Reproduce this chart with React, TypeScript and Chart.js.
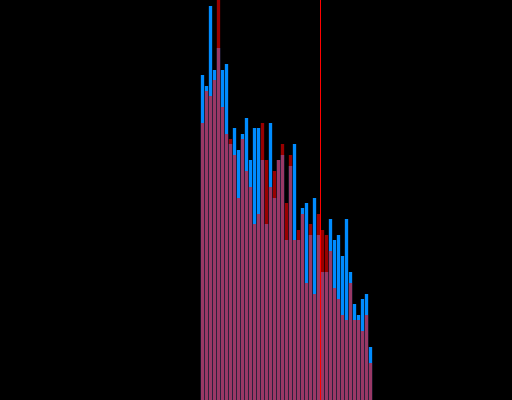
import React, { useEffect, useRef } from "react";
import { Chart, registerables } from "chart.js";

Chart.register(...registerables);

// Histogram bins (bin start values)
const bins = [
  50, 51, 52, 53, 54, 55, 56, 57, 58, 59,
  60, 61, 62, 63, 64, 65, 66, 67, 68, 69,
  70, 71, 72, 73, 74, 75, 76, 77, 78, 79,
  80, 81, 82, 83, 84, 85, 86, 87, 88, 89,
  90, 91, 92,
];

// Series A (blue)
const seriesBlue = [
  81.25, 78.5, 98.5, 82.5, 88, 82.5, 84, 64, 68, 62.5,
  66.5, 70.5, 60, 68, 68, 60, 44, 69.25, 50.5, 60,
  61.25, 40, 58.5, 64, 40, 48, 49.25, 41.25, 50.5, 41.25,
  32, 32, 45.25, 40, 41.25, 36, 45.25, 32, 24, 21.25,
  25.25, 26.5, 13.25,
];

// Series B (red, translucent)
const seriesRed = [
  69.25, 77.25, 76, 80, 104, 73.25, 66.5, 65.25, 61.25, 50.5,
  65.25, 57.25, 53.25, 44, 46.5, 69.25, 60, 53.25, 57.25, 60,
  64, 49.25, 61.25, 40, 42.5, 46.5, 29.25, 44, 26.5, 46.5,
  42.5, 41.25, 37.25, 28, 25.25, 21.25, 20, 29.25, 20, 20,
  17.25, 21.25, 9.25,
];

// Vertical marker value
const markerValue = 80;

const xMin = -0.125;
const xMax = 127.875;
const yMin = 0;
const yMax = 100;

export default function App() {
  const canvasRef = useRef<HTMLCanvasElement | null>(null);

  useEffect(() => {
    document.body.style.margin = "0";
    document.body.style.background = "#000";
    const canvas = canvasRef.current;
    if (!canvas) return;

    const blueData = bins.map((b, i) => ({ x: b + 0.5, y: seriesBlue[i] }));
    const redData = bins.map((b, i) => ({ x: b + 0.5, y: seriesRed[i] }));

    const chart = new Chart(canvas, {
      type: "bar",
      data: {
        datasets: [
          {
            type: "line",
            label: "marker",
            data: [
              { x: markerValue, y: yMin },
              { x: markerValue, y: yMax },
            ],
            borderColor: "#ff0000",
            borderWidth: 1,
            pointRadius: 0,
            fill: false,
            order: 0,
          } as any,
          {
            label: "B",
            data: redData,
            backgroundColor: "rgba(255,0,0,0.6)",
            borderWidth: 0,
            grouped: false,
            categoryPercentage: 1,
            barPercentage: 0.83,
            order: 1,
          } as any,
          {
            label: "A",
            data: blueData,
            backgroundColor: "rgb(0,140,255)",
            borderWidth: 0,
            grouped: false,
            categoryPercentage: 1,
            barPercentage: 0.83,
            order: 2,
          } as any,
        ],
      },
      options: {
        responsive: false,
        animation: false,
        devicePixelRatio: 1,
        layout: { padding: 0 },
        plugins: {
          legend: { display: false },
          tooltip: { enabled: false },
          title: { display: false },
        },
        scales: {
          x: {
            type: "linear",
            min: xMin,
            max: xMax,
            offset: false,
            display: false,
          },
          y: {
            type: "linear",
            min: yMin,
            max: yMax,
            display: false,
          },
        },
      },
    });

    return () => chart.destroy();
  }, []);

  return (
    <div
      style={{
        position: "fixed",
        left: 0,
        top: 0,
        width: 512,
        height: 400,
        background: "#000",
      }}
    >
      <canvas ref={canvasRef} width={512} height={400} style={{ display: "block" }} />
    </div>
  );
}
